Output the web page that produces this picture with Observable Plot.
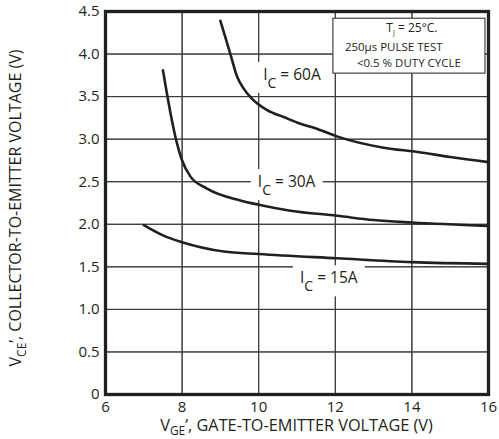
<!DOCTYPE html>
<html><head><meta charset="utf-8">
<script src="https://cdn.jsdelivr.net/npm/d3@7"></script>
<script src="https://cdn.jsdelivr.net/npm/@observablehq/plot@0.6"></script>
<style>body{margin:0;background:#fff} svg{display:block}</style>
</head><body><div id="chart"></div>
<script>
// Tick values & labels
const xTicks = [6, 8, 10, 12, 14, 16];
const xTickLabels = ["6", "8", "10", "12", "14", "16"];
const yTicks = [0, 0.5, 1, 1.5, 2, 2.5, 3, 3.5, 4, 4.5];
const yTickLabels = ["0", "0.5", "1.0", "1.5", "2.0", "2.5", "3.0", "3.5", "4.0", "4.5"];

// Series: VGE (x) and VCE (y) for each collector current
const vge60 = [9.0, 9.26, 9.44, 9.6, 9.79, 10.22, 10.65, 11.09, 11.53, 12.06, 13.26, 14.15, 15.0, 16.0];
const vce60 = [4.39, 4.0, 3.73, 3.6, 3.49, 3.34, 3.26, 3.18, 3.12, 3.03, 2.90, 2.85, 2.79, 2.73];
const vge30 = [7.5, 7.7, 7.85, 8.0, 8.22, 8.65, 9.52, 10.0, 10.83, 12.05, 13.0, 14.0, 16.0];
const vce30 = [3.81, 3.30, 2.98, 2.75, 2.56, 2.42, 2.28, 2.23, 2.16, 2.10, 2.05, 2.02, 1.98];
const vge15 = [7.0, 7.5, 8.0, 9.09, 10.0, 12.05, 14.0, 16.0];
const vce15 = [1.99, 1.87, 1.79, 1.68, 1.65, 1.60, 1.555, 1.535];

// Curve labels (I_C = ...), anchored in data coordinates
const labelCurrents = ["60A", "30A", "15A"];
const labelX = [10.13, 9.99, 11.09];
const labelY = [3.69, 2.43, 1.30];

// Test-condition note (box corners in data units)
const noteBox = [{x1: 11.95, x2: 15.92, y1: 4.415, y2: 3.77}];
const noteLines = ["250µs PULSE TEST", "<0.5 % DUTY CYCLE"];

const toRows = (xs, ys) => xs.map((x, i) => ({x, y: ys[i]}));
const ink = "#231f20";
const xMin = xTicks[0], xMax = xTicks[xTicks.length - 1];
const yMin = yTicks[0], yMax = yTicks[yTicks.length - 1];

const plot = Plot.plot({
  width: 499, height: 439,
  marginLeft: 105, marginRight: 11, marginTop: 11, marginBottom: 45,
  style: {fontFamily: "'Open Sans', sans-serif", fontSize: "15px", color: ink, background: "#fff"},
  x: {domain: [xMin, xMax], label: null},
  y: {domain: [yMin, yMax], label: null},
  marks: [
    Plot.ruleX(xTicks, {stroke: "#3a3a3a", strokeWidth: 1}),
    Plot.ruleY(yTicks, {stroke: "#3a3a3a", strokeWidth: 1}),
    Plot.link(xTicks, {x1: d => d, x2: d => d, y1: () => yMin, y2: () => yMax, stroke: "#3a3a3a", strokeWidth: 1}),
    Plot.link(yTicks, {y1: d => d, y2: d => d, x1: () => xMin, x2: () => xMax, stroke: "#3a3a3a", strokeWidth: 1}),
    Plot.line(toRows(vge60, vce60), {x: "x", y: "y", curve: "monotone-x", stroke: ink, strokeWidth: 2.6}),
    Plot.line(toRows(vge30, vce30), {x: "x", y: "y", curve: "monotone-x", stroke: ink, strokeWidth: 2.6}),
    Plot.line(toRows(vge15, vce15), {x: "x", y: "y", curve: "monotone-x", stroke: ink, strokeWidth: 2.6}),
    Plot.rect(noteBox, {x1: "x1", x2: "x2", y1: "y1", y2: "y2", fill: "#fff", stroke: "#444", strokeWidth: 1.2}),
    Plot.frame({stroke: ink, strokeWidth: 3.3}),
    Plot.axisX(xTicks, {tickSize: 0, tickPadding: 7, fontSize: 15, label: null,
      tickFormat: d => xTickLabels[xTicks.indexOf(d)]}),
    Plot.axisY(yTicks, {tickSize: 0, tickPadding: 6, fontSize: 15, label: null,
      tickFormat: d => yTickLabels[yTicks.indexOf(d)]})
  ]
});
document.getElementById("chart").append(plot);

const svg = d3.select(plot);
const sx = plot.scale("x"), sy = plot.scale("y");
const font = "'Open Sans', sans-serif";

// Curve labels with white background
labelCurrents.forEach((cur, i) => {
  const g = svg.append("g");
  const bg = g.append("rect").attr("fill", "#fff");
  const t = g.append("text")
    .attr("x", sx.apply(labelX[i])).attr("y", sy.apply(labelY[i]))
    .attr("text-anchor", "start")
    .attr("font-family", font).attr("font-size", 15.5).attr("fill", ink);
  t.append("tspan").text("I");
  t.append("tspan").attr("dy", 8).attr("font-size", 14).text("C");
  t.append("tspan").attr("dy", -8).text(" = " + cur);
  const b = t.node().getBBox();
  bg.attr("x", b.x - 7).attr("y", b.y - 1).attr("width", b.width + 14).attr("height", b.height + 2);
});

// Note texts
const nx0 = sx.apply(noteBox[0].x1), nx1 = sx.apply(noteBox[0].x2), ny0 = sy.apply(noteBox[0].y1);
const n1 = svg.append("text").attr("x", (nx0 + nx1) / 2 + 3).attr("y", ny0 + 13.5)
  .attr("text-anchor", "middle").attr("font-family", font).attr("font-size", 12).attr("fill", ink);
n1.append("tspan").text("T");
n1.append("tspan").attr("dy", 3).attr("font-size", 7).text("J");
n1.append("tspan").attr("dy", -3).text(" = 25°C.");
svg.append("text").attr("x", nx0 + 12).attr("y", ny0 + 32.5).attr("text-anchor", "start")
  .attr("font-family", font).attr("font-size", 11.5).attr("fill", ink).text(noteLines[0]);
svg.append("text").attr("x", nx0 + 24).attr("y", ny0 + 48.5).attr("text-anchor", "start")
  .attr("font-family", font).attr("font-size", 11.5).attr("fill", ink).text(noteLines[1]);

// Axis titles with subscripts
const xt = svg.append("text").attr("x", 296.5).attr("y", 431).attr("text-anchor", "middle")
  .attr("font-family", font).attr("font-size", 16.3).attr("fill", ink);
xt.append("tspan").text("V");
xt.append("tspan").attr("dy", 3.5).attr("font-size", 12).text("GE");
xt.append("tspan").attr("dy", -3.5).text("’, GATE-TO-EMITTER VOLTAGE (V)");

const yt = svg.append("text").attr("transform", "translate(21,208) rotate(-90)").attr("text-anchor", "middle")
  .attr("font-family", font).attr("font-size", 16).attr("fill", ink);
yt.append("tspan").text("V");
yt.append("tspan").attr("dy", 5).attr("font-size", 12).text("CE");
yt.append("tspan").attr("dy", -5).text("’, COLLECTOR-TO-EMITTER VOLTAGE (V)");
</script>
</body></html>
